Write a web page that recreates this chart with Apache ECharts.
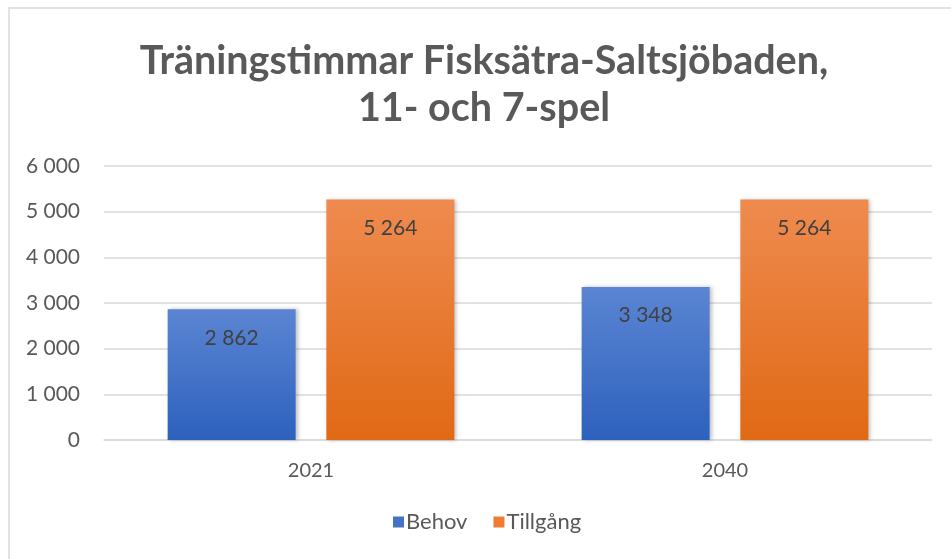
<!DOCTYPE html>
<html>
<head>
<meta charset="utf-8">
<script src="https://cdn.jsdelivr.net/npm/echarts@6/dist/echarts.min.js"></script>
<style>
  html, body { margin: 0; padding: 0; background: #fff; }
  #chart { width: 951px; height: 559px; }
</style>
</head>
<body>
<div id="chart"></div>
<script>
// data
var years = ['2021', '2040'];
var behov = [2862, 3348];
var tillgang = [5264, 5264];
var yTicks = [0, 1000, 2000, 3000, 4000, 5000, 6000];

var titleText = 'Träningstimmar Fisksätra-Saltsjöbaden,\n11- och 7-spel';
var font = 'Lato, "Open Sans", sans-serif';

// tal med mellanslag som tusentalsavgränsare
function fmt(v) {
  return String(v).replace(/\B(?=(\d{3})+(?!\d))/g, ' ');
}

function grad(top, bottom) {
  return new echarts.graphic.LinearGradient(0, 0, 0, 1, [
    { offset: 0, color: top },
    { offset: 1, color: bottom }
  ]);
}

var chartDom = document.getElementById('chart');
var myChart = echarts.init(chartDom);

var option = {
  backgroundColor: '#fff',
  animation: false,
  graphic: [{
    type: 'rect',
    shape: { x: 9, y: 8, width: 960, height: 600 },
    style: { fill: 'none', stroke: '#d9d9d9', lineWidth: 1.5 },
    silent: true
  }],
  title: {
    text: titleText,
    left: 479,
    top: 33,
    textAlign: 'center',
    textStyle: {
      fontFamily: font,
      fontSize: 39.5,
      fontWeight: 'bold',
      color: '#595959',
      lineHeight: 47
    }
  },
  legend: {
    bottom: 21,
    left: 388,
    itemWidth: 11,
    itemHeight: 11,
    itemGap: 26,
    icon: 'rect',
    textStyle: { fontFamily: font, fontSize: 22, color: '#595959', padding: [0, 0, 0, -3] },
    data: [
      { name: 'Behov', itemStyle: { color: '#4472c4' } },
      { name: 'Tillgång', itemStyle: { color: '#ed7d31' } }
    ]
  },
  grid: { left: 104, right: 19, top: 166, bottom: 119 },
  xAxis: {
    type: 'category',
    data: years,
    axisLine: { lineStyle: { color: '#d9d9d9', width: 1.5 } },
    axisTick: { show: false },
    axisLabel: { fontFamily: font, fontSize: 20, color: '#595959', margin: 21 }
  },
  yAxis: {
    type: 'value',
    min: yTicks[0],
    max: yTicks[yTicks.length - 1],
    interval: 1000,
    axisLine: { show: false },
    axisTick: { show: false },
    splitLine: { lineStyle: { color: '#d9d9d9', width: 1.5 } },
    axisLabel: {
      fontFamily: font, fontSize: 21, color: '#595959', margin: 24,
      formatter: function (v) { return fmt(v); }
    }
  },
  series: [
    {
      name: 'Behov',
      type: 'bar',
      data: behov,
      barWidth: 128,
      barGap: '24%',
      itemStyle: {
        color: grad('#5b85d3', '#2d61bd'),
        shadowColor: 'rgba(0,0,0,0.25)',
        shadowBlur: 4,
        shadowOffsetX: 2
      },
      label: {
        show: true,
        position: 'insideTop',
        distance: 18,
        fontFamily: font,
        fontSize: 21,
        color: '#404040',
        formatter: function (p) { return fmt(p.value); }
      }
    },
    {
      name: 'Tillgång',
      type: 'bar',
      data: tillgang,
      barWidth: 128,
      itemStyle: {
        color: grad('#ef8b4f', '#e06914'),
        shadowColor: 'rgba(0,0,0,0.25)',
        shadowBlur: 4,
        shadowOffsetX: 2
      },
      label: {
        show: true,
        position: 'insideTop',
        distance: 18,
        fontFamily: font,
        fontSize: 21,
        color: '#404040',
        formatter: function (p) { return fmt(p.value); }
      }
    }
  ]
};

option && myChart.setOption(option);
</script>
</body>
</html>
